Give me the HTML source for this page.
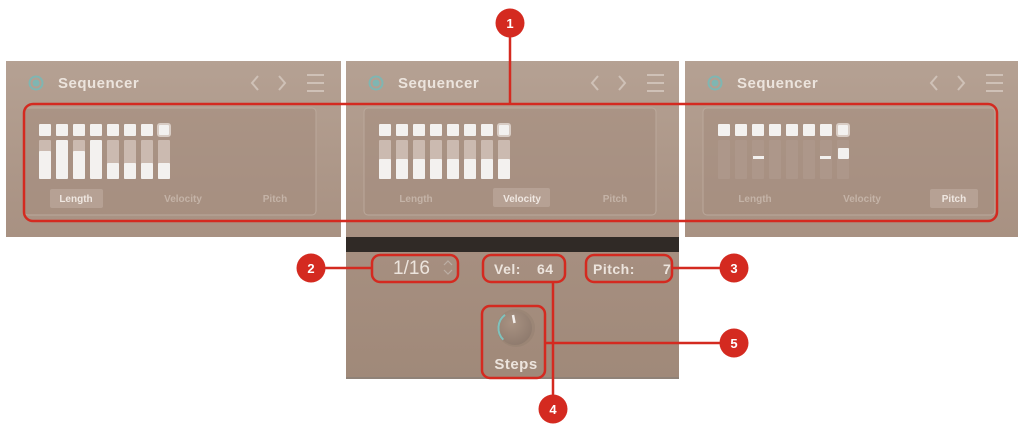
<!DOCTYPE html>
<html><head><meta charset="utf-8"><style>
html,body{margin:0;padding:0;background:#fff;}
svg{display:block;}
text{font-family:"Liberation Sans",Arial,sans-serif;font-weight:bold;}
</style></head><body>
<svg width="1024" height="431" viewBox="0 0 1024 431" xmlns="http://www.w3.org/2000/svg">
<defs>
<linearGradient id="pg" x1="0" y1="0" x2="0" y2="1">
<stop offset="0" stop-color="#b5a193"/>
<stop offset="1" stop-color="#a89182"/>
</linearGradient>
<linearGradient id="bg2" x1="0" y1="0" x2="0" y2="1">
<stop offset="0" stop-color="#a68f80"/>
<stop offset="1" stop-color="#a08979"/>
</linearGradient>
<radialGradient id="kn" cx="0.4" cy="0.35" r="0.7">
<stop offset="0" stop-color="#a89282"/>
<stop offset="1" stop-color="#8e7a6d"/>
</radialGradient>
<g id="hdr">
<circle cx="30" cy="22" r="6.5" fill="none" stroke="#7fb6b2" stroke-width="2"/>
<circle cx="30" cy="22" r="3.5" fill="#7fb6b2"/>
<text x="52" y="27" font-size="15" fill="#ece4dd" letter-spacing="0.5">Sequencer</text>
<polyline points="252,15 246,22 252,29" fill="none" stroke="#cfc1b7" stroke-width="2"/>
<polyline points="273,15 279,22 273,29" fill="none" stroke="#cfc1b7" stroke-width="2"/>
<line x1="301" y1="14" x2="318" y2="14" stroke="#cfc1b7" stroke-width="2"/>
<line x1="301" y1="22" x2="318" y2="22" stroke="#cfc1b7" stroke-width="2"/>
<line x1="301" y1="30" x2="318" y2="30" stroke="#cfc1b7" stroke-width="2"/>
<rect x="18" y="47" width="292" height="107" rx="4" fill="#a48c7d" fill-opacity="0.55" stroke="#bba89b" stroke-width="1"/>
</g>
</defs>

<!-- Left panel -->
<rect x="6" y="61" width="335" height="176" fill="url(#pg)"/>
<g transform="translate(6,61)"><use href="#hdr"/></g>
<!-- Middle panel -->
<rect x="346" y="61" width="333" height="176" fill="url(#pg)"/>
<g transform="translate(346,61)"><use href="#hdr"/></g>
<!-- Right panel -->
<rect x="685" y="61" width="333" height="176" fill="url(#pg)"/>
<g transform="translate(685,61)"><use href="#hdr"/></g>

<!-- Left bars -->
<g fill="#f3f1ef">
<rect x="39" y="124" width="12" height="12" rx="1"/>
<rect x="56" y="124" width="12" height="12" rx="1"/>
<rect x="73" y="124" width="12" height="12" rx="1"/>
<rect x="90" y="124" width="12" height="12" rx="1"/>
<rect x="107" y="124" width="12" height="12" rx="1"/>
<rect x="124" y="124" width="12" height="12" rx="1"/>
<rect x="141" y="124" width="12" height="12" rx="1"/>
<rect x="158" y="124" width="12" height="12" rx="2" stroke="#d8ccc4" stroke-width="2"/>
</g>
<g fill="#cbbab0">
<rect x="39" y="140" width="12" height="39" rx="1"/>
<rect x="73" y="140" width="12" height="39" rx="1"/>
<rect x="107" y="140" width="12" height="39" rx="1"/>
<rect x="124" y="140" width="12" height="39" rx="1"/>
<rect x="141" y="140" width="12" height="39" rx="1"/>
<rect x="158" y="140" width="12" height="39" rx="1"/>
</g>
<g fill="#f3f1ef">
<rect x="39" y="151" width="12" height="28" rx="1"/>
<rect x="56" y="140" width="12" height="39" rx="1"/>
<rect x="73" y="151" width="12" height="28" rx="1"/>
<rect x="90" y="140" width="12" height="39" rx="1"/>
<rect x="107" y="163" width="12" height="16" rx="1"/>
<rect x="124" y="163" width="12" height="16" rx="1"/>
<rect x="141" y="163" width="12" height="16" rx="1"/>
<rect x="158" y="163" width="12" height="16" rx="1"/>
</g>
<rect x="50" y="189" width="53" height="19" rx="2" fill="#c0ada1" fill-opacity="0.6"/>
<text x="76" y="202" font-size="10" fill="#efe7e1" text-anchor="middle">Length</text>
<text x="183" y="202" font-size="10" fill="#c4b3a7" text-anchor="middle">Velocity</text>
<text x="275" y="202" font-size="10" fill="#c4b3a7" text-anchor="middle">Pitch</text>

<!-- Middle bars -->
<g fill="#f3f1ef">
<rect x="379" y="124" width="12" height="12" rx="1"/>
<rect x="396" y="124" width="12" height="12" rx="1"/>
<rect x="413" y="124" width="12" height="12" rx="1"/>
<rect x="430" y="124" width="12" height="12" rx="1"/>
<rect x="447" y="124" width="12" height="12" rx="1"/>
<rect x="464" y="124" width="12" height="12" rx="1"/>
<rect x="481" y="124" width="12" height="12" rx="1"/>
<rect x="498" y="124" width="12" height="12" rx="2" stroke="#d8ccc4" stroke-width="2"/>
</g>
<g fill="#cbbab0">
<rect x="379" y="140" width="12" height="39" rx="1"/>
<rect x="396" y="140" width="12" height="39" rx="1"/>
<rect x="413" y="140" width="12" height="39" rx="1"/>
<rect x="430" y="140" width="12" height="39" rx="1"/>
<rect x="447" y="140" width="12" height="39" rx="1"/>
<rect x="464" y="140" width="12" height="39" rx="1"/>
<rect x="481" y="140" width="12" height="39" rx="1"/>
<rect x="498" y="140" width="12" height="39" rx="1"/>
</g>
<g fill="#f3f1ef">
<rect x="379" y="159" width="12" height="20" rx="1"/>
<rect x="396" y="159" width="12" height="20" rx="1"/>
<rect x="413" y="159" width="12" height="20" rx="1"/>
<rect x="430" y="159" width="12" height="20" rx="1"/>
<rect x="447" y="159" width="12" height="20" rx="1"/>
<rect x="464" y="159" width="12" height="20" rx="1"/>
<rect x="481" y="159" width="12" height="20" rx="1"/>
<rect x="498" y="159" width="12" height="20" rx="1"/>
</g>
<rect x="493" y="188" width="57" height="19" rx="2" fill="#c0ada1" fill-opacity="0.6"/>
<text x="416" y="202" font-size="10" fill="#c4b3a7" text-anchor="middle">Length</text>
<text x="522" y="202" font-size="10" fill="#efe7e1" text-anchor="middle">Velocity</text>
<text x="615" y="202" font-size="10" fill="#c4b3a7" text-anchor="middle">Pitch</text>

<!-- Right bars -->
<g fill="#ad978a">
<rect x="718" y="140" width="12" height="39" rx="1"/>
<rect x="735" y="140" width="12" height="39" rx="1"/>
<rect x="752" y="140" width="12" height="39" rx="1"/>
<rect x="769" y="140" width="12" height="39" rx="1"/>
<rect x="786" y="140" width="12" height="39" rx="1"/>
<rect x="803" y="140" width="12" height="39" rx="1"/>
<rect x="820" y="140" width="12" height="39" rx="1"/>
<rect x="837" y="140" width="12" height="39" rx="1"/>
</g>
<g fill="#f3f1ef">
<rect x="718" y="124" width="12" height="12" rx="1"/>
<rect x="735" y="124" width="12" height="12" rx="1"/>
<rect x="752" y="124" width="12" height="12" rx="1"/>
<rect x="769" y="124" width="12" height="12" rx="1"/>
<rect x="786" y="124" width="12" height="12" rx="1"/>
<rect x="803" y="124" width="12" height="12" rx="1"/>
<rect x="820" y="124" width="12" height="12" rx="1"/>
<rect x="837" y="124" width="12" height="12" rx="2" stroke="#d8ccc4" stroke-width="2"/>
<rect x="753" y="156" width="11" height="3"/>
<rect x="820" y="156" width="11" height="3"/>
<rect x="838" y="148" width="11" height="11" rx="1"/>
</g>
<rect x="930" y="189" width="48" height="19" rx="2" fill="#c0ada1" fill-opacity="0.6"/>
<text x="755" y="202" font-size="10" fill="#c4b3a7" text-anchor="middle">Length</text>
<text x="862" y="202" font-size="10" fill="#c4b3a7" text-anchor="middle">Velocity</text>
<text x="954" y="202" font-size="10" fill="#efe7e1" text-anchor="middle">Pitch</text>

<!-- Middle lower section -->
<rect x="346" y="237" width="333" height="15" fill="#302a26"/>
<rect x="346" y="252" width="333" height="126" fill="url(#bg2)"/>
<rect x="346" y="377" width="333" height="2" fill="#8f8278"/>

<text x="393" y="274" font-size="19" fill="#ece4dd" font-weight="normal" style="font-weight:normal">1/16</text>
<polyline points="444,265 448,261 452,265" fill="none" stroke="#bcaea4" stroke-width="1.2"/>
<polyline points="444,270 448,274 452,270" fill="none" stroke="#bcaea4" stroke-width="1.2"/>

<text x="494" y="274" font-size="14" fill="#ece4dd" letter-spacing="0.5">Vel:</text>
<text x="537" y="274" font-size="14" fill="#ece4dd" letter-spacing="0.5">64</text>
<text x="593" y="274" font-size="14" fill="#ece4dd" letter-spacing="0.5">Pitch:</text>
<text x="663" y="274" font-size="14" fill="#ece4dd">7</text>

<!-- Knob -->
<circle cx="516" cy="328" r="19" fill="#94806f" opacity="0.5"/>
<circle cx="515" cy="328" r="17" fill="url(#kn)"/>
<path d="M 503.3 339.7 A 16.5 16.5 0 0 1 505 314.8" fill="none" stroke="#7fc2bd" stroke-width="2"/>
<line x1="513" y1="315" x2="514.5" y2="323" stroke="#f3efec" stroke-width="2.5"/>
<text x="516" y="369" font-size="15" fill="#ece4dd" text-anchor="middle" letter-spacing="0.5">Steps</text>

<!-- Red annotations -->
<g stroke="#d42a20" stroke-width="2.5" fill="none">
<rect x="24" y="104" width="973" height="117" rx="9"/>
<line x1="510" y1="23" x2="510" y2="104"/>
<rect x="372" y="255" width="86" height="27" rx="8"/>
<line x1="311" y1="268" x2="372" y2="268"/>
<rect x="483" y="255" width="82" height="27" rx="8"/>
<rect x="586" y="255" width="86" height="27" rx="8"/>
<line x1="672" y1="268" x2="734" y2="268"/>
<rect x="482" y="306" width="63" height="72" rx="8"/>
<line x1="545" y1="343" x2="734" y2="343"/>
<line x1="553" y1="282" x2="553" y2="409"/>
</g>
<g fill="#d42a20">
<circle cx="510" cy="23" r="14.5"/>
<circle cx="311" cy="268" r="14.5"/>
<circle cx="734" cy="268" r="14.5"/>
<circle cx="553" cy="409" r="14.5"/>
<circle cx="734" cy="343" r="14.5"/>
</g>
<g fill="#ffffff" font-size="13" text-anchor="middle">
<text x="510" y="28">1</text>
<text x="311" y="273">2</text>
<text x="734" y="273">3</text>
<text x="553" y="414">4</text>
<text x="734" y="348">5</text>
</g>
</svg>
</body></html>
